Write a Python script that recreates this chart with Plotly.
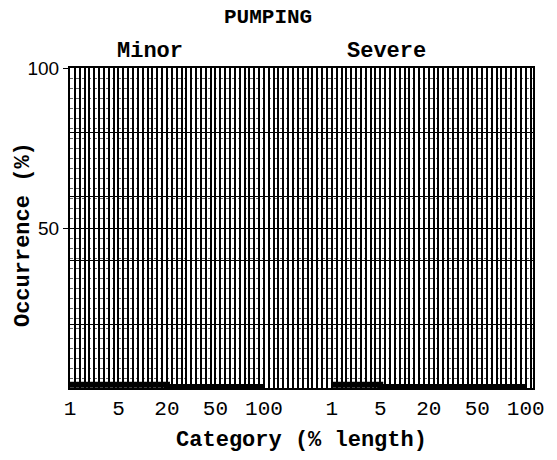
import plotly.graph_objects as go

# Occurrence (%) of pumping by category (% of section length)
categories = ["1", "5", "20", "50", "100"]
minor_occurrence = [1.0, 1.0, 1.0, 0.3, 0.3]
severe_occurrence = [1.0, 1.0, 0.3, 0.3, 0.3]
panel_names = ["Minor", "Severe"]
y_ticks = [50, 100]

# Two groups laid side by side on one shared category axis
gap = 5.4
minor_x = [i for i in range(len(categories))]
severe_x = [i + gap for i in range(len(categories))]
x_range = [0, 9.55]

mono = "Liberation Mono"
ink = "black"

fig = go.Figure()
for xs, ys in ((minor_x, minor_occurrence), (severe_x, severe_occurrence)):
    fig.add_trace(go.Scatter(
        x=xs, y=ys, mode="lines", line=dict(color=ink, width=6, shape="vh"),
        showlegend=False, hoverinfo="skip",
    ))

# invisible copy on the secondary axes so their fine ruling gets drawn
fig.add_trace(go.Scatter(
    x=minor_x, y=minor_occurrence, xaxis="x2", yaxis="y2", mode="lines",
    opacity=0, line=dict(width=0), showlegend=False, hoverinfo="skip",
))

fig.update_layout(
    width=557, height=460,
    margin=dict(l=70, r=24, t=68, b=72, autoexpand=False),
    paper_bgcolor="white", plot_bgcolor="white",
    font=dict(family=mono, color=ink, size=21),
    showlegend=False,
    # secondary axes used only for the fine dotted ruling of the graph paper
    xaxis2=dict(overlaying="x", range=x_range, showticklabels=False, ticks="",
                showgrid=False, zeroline=False, showline=False, automargin=False),
    yaxis2=dict(overlaying="y", range=[0, 100], showticklabels=False, ticks="",
                tickmode="linear", tick0=0, dtick=3.125, showgrid=True,
                gridcolor="rgba(0,0,0,0.6)", gridwidth=1, griddash="dot",
                zeroline=False, showline=False, automargin=False),
)

fig.layout.xaxis.update(
    range=x_range, automargin=False,
    tickmode="array", tickvals=minor_x + severe_x, ticktext=categories * 2,
    tickfont=dict(family=mono, size=21, color=ink),
    ticks="", showgrid=False, zeroline=False,
    showline=True, linecolor=ink, linewidth=2, mirror=True,
    minor=dict(tickmode="linear", tick0=0, dtick=0.1, showgrid=True,
               gridcolor="black", gridwidth=1.6, ticks=""),
    title=dict(text="<b>Category (% length)</b>",
               font=dict(family=mono, size=22, color=ink), standoff=10),
)

fig.layout.yaxis.update(
    range=[0, 100], automargin=False,
    tickmode="array", tickvals=y_ticks, ticktext=[str(v) for v in y_ticks],
    tickfont=dict(family="Liberation Sans", size=19, color=ink),
    ticks="outside", ticklen=5, tickcolor=ink, tickwidth=1,
    showgrid=True, gridcolor=ink, gridwidth=1, zeroline=False,
    showline=True, linecolor=ink, linewidth=2, mirror=True,
    minor=dict(tickmode="linear", tick0=0, dtick=20, showgrid=True,
               gridcolor="black", gridwidth=1.2, ticks=""),
)

# vertical axis title
fig.add_annotation(text="<b>Occurrence (%)</b>", xref="paper", yref="paper",
                   x=-0.1015, y=0.478, xanchor="center", yanchor="middle",
                   textangle=-90, showarrow=False,
                   font=dict(family=mono, size=22, color=ink))

fig.add_annotation(text="<b>PUMPING</b>", xref="paper", yref="paper",
                   x=0.428, y=1.158, xanchor="center", yanchor="middle",
                   showarrow=False, font=dict(family=mono, size=21, color=ink))
for name, px in zip(panel_names, (0.173, 0.683)):
    fig.add_annotation(text="<b>%s</b>" % name, xref="paper", yref="paper",
                       x=px, y=1.052, xanchor="center", yanchor="middle",
                       showarrow=False, font=dict(family=mono, size=22, color=ink))

fig.write_html("out.html")
